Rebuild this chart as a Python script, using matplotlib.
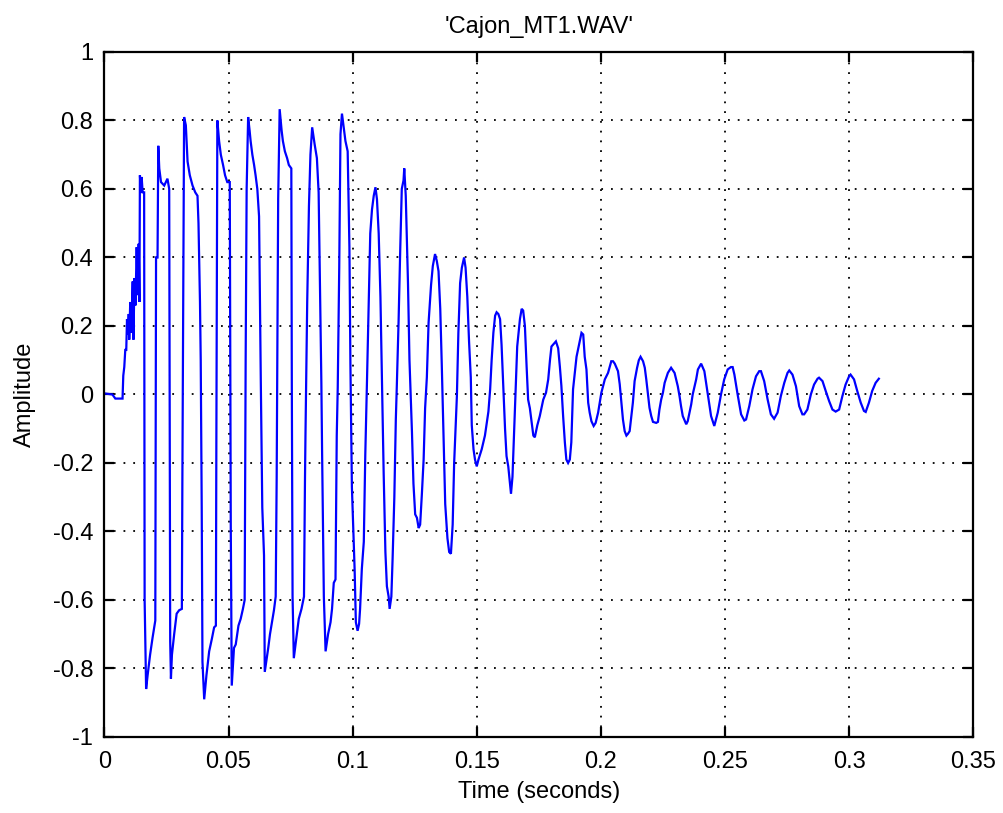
import matplotlib
matplotlib.use('Agg')
import matplotlib.pyplot as plt

title_text = "'Cajon_MT1.WAV'"
x_label = "Time (seconds)"
y_label = "Amplitude"
x_ticks = [0, 0.05, 0.1, 0.15, 0.2, 0.25, 0.3, 0.35]
x_tick_labels = ['0', '0.05', '0.1', '0.15', '0.2', '0.25', '0.3', '0.35']
y_ticks = [-1, -0.8, -0.6, -0.4, -0.2, 0, 0.2, 0.4, 0.6, 0.8, 1]
y_tick_labels = ['-1', '-0.8', '-0.6', '-0.4', '-0.2', '0', '0.2', '0.4', '0.6', '0.8', '1']

# waveform vertices (seconds, amplitude)
time_s = [
    0.0000, 0.0032, 0.0044, 0.0073, 0.0076, 0.0080, 0.0084, 0.0088, 0.0091, 0.0094,
    0.0098, 0.0100, 0.0104, 0.0108, 0.0114, 0.0117, 0.0121, 0.0125, 0.0130, 0.0134,
    0.0138, 0.0141, 0.0143, 0.0147, 0.0150, 0.0154, 0.0160, 0.0162, 0.0168, 0.0174,
    0.0184, 0.0194, 0.0205, 0.0208, 0.0214, 0.0217, 0.0221, 0.0228, 0.0241, 0.0254,
    0.0261, 0.0265, 0.0268, 0.0272, 0.0281, 0.0291, 0.0301, 0.0312, 0.0314, 0.0321,
    0.0328, 0.0335, 0.0344, 0.0355, 0.0366, 0.0375, 0.0379, 0.0385, 0.0388, 0.0392,
    0.0395, 0.0402, 0.0411, 0.0422, 0.0433, 0.0442, 0.0449, 0.0451, 0.0455, 0.0462,
    0.0469, 0.0478, 0.0486, 0.0495, 0.0505, 0.0509, 0.0513, 0.0522, 0.0529, 0.0540,
    0.0549, 0.0558, 0.0565, 0.0569, 0.0573, 0.0579, 0.0585, 0.0589, 0.0596, 0.0603,
    0.0609, 0.0616, 0.0623, 0.0630, 0.0636, 0.0643, 0.0646, 0.0652, 0.0660, 0.0667,
    0.0674, 0.0683, 0.0690, 0.0694, 0.0700, 0.0706, 0.0714, 0.0719, 0.0727, 0.0736,
    0.0743, 0.0753, 0.0755, 0.0758, 0.0763, 0.0770, 0.0777, 0.0783, 0.0794, 0.0804,
    0.0808, 0.0810, 0.0817, 0.0824, 0.0830, 0.0837, 0.0847, 0.0856, 0.0863, 0.0870,
    0.0874, 0.0877, 0.0884, 0.0891, 0.0901, 0.0911, 0.0917, 0.0924, 0.0931, 0.0936,
    0.0940, 0.0946, 0.0951, 0.0957, 0.0964, 0.0971, 0.0980, 0.0987, 0.0991, 0.0997,
    0.1008, 0.1013, 0.1020, 0.1026, 0.1030, 0.1037, 0.1045, 0.1051, 0.1058, 0.1065,
    0.1071, 0.1078, 0.1085, 0.1092, 0.1098, 0.1105, 0.1112, 0.1118, 0.1125, 0.1132,
    0.1138, 0.1145, 0.1149, 0.1156, 0.1161, 0.1168, 0.1174, 0.1178, 0.1185, 0.1192,
    0.1198, 0.1205, 0.1208, 0.1214, 0.1223, 0.1229, 0.1239, 0.1245, 0.1252, 0.1259,
    0.1266, 0.1272, 0.1279, 0.1286, 0.1292, 0.1299, 0.1306, 0.1316, 0.1323, 0.1332,
    0.1339, 0.1346, 0.1353, 0.1359, 0.1366, 0.1373, 0.1382, 0.1389, 0.1396, 0.1403,
    0.1409, 0.1420, 0.1426, 0.1433, 0.1440, 0.1449, 0.1455, 0.1462, 0.1469, 0.1476,
    0.1480, 0.1487, 0.1493, 0.1500, 0.1507, 0.1520, 0.1533, 0.1547, 0.1554, 0.1560,
    0.1567, 0.1574, 0.1580, 0.1587, 0.1594, 0.1600, 0.1607, 0.1614, 0.1620, 0.1627,
    0.1634, 0.1638, 0.1644, 0.1650, 0.1657, 0.1663, 0.1674, 0.1681, 0.1687, 0.1694,
    0.1701, 0.1707, 0.1714, 0.1721, 0.1728, 0.1734, 0.1744, 0.1754, 0.1768, 0.1779,
    0.1788, 0.1795, 0.1801, 0.1819, 0.1828, 0.1835, 0.1841, 0.1848, 0.1855, 0.1861,
    0.1868, 0.1875, 0.1881, 0.1888, 0.1902, 0.1912, 0.1922, 0.1929, 0.1935, 0.1942,
    0.1949, 0.1955, 0.1962, 0.1971, 0.1979, 0.1989, 0.2002, 0.2016, 0.2029, 0.2042,
    0.2049, 0.2056, 0.2069, 0.2076, 0.2083, 0.2089, 0.2096, 0.2103, 0.2109, 0.2116,
    0.2123, 0.2129, 0.2136, 0.2146, 0.2153, 0.2160, 0.2170, 0.2177, 0.2183, 0.2190,
    0.2196, 0.2203, 0.2210, 0.2223, 0.2230, 0.2236, 0.2243, 0.2250, 0.2257, 0.2270,
    0.2283, 0.2297, 0.2310, 0.2317, 0.2323, 0.2330, 0.2344, 0.2350, 0.2357, 0.2364,
    0.2370, 0.2384, 0.2391, 0.2404, 0.2417, 0.2424, 0.2431, 0.2438, 0.2444, 0.2457,
    0.2471, 0.2484, 0.2497, 0.2511, 0.2524, 0.2531, 0.2538, 0.2551, 0.2565, 0.2578,
    0.2585, 0.2598, 0.2611, 0.2625, 0.2638, 0.2645, 0.2658, 0.2672, 0.2685, 0.2698,
    0.2712, 0.2725, 0.2739, 0.2752, 0.2759, 0.2772, 0.2786, 0.2799, 0.2812, 0.2819,
    0.2832, 0.2846, 0.2859, 0.2873, 0.2879, 0.2893, 0.2906, 0.2920, 0.2933, 0.2946,
    0.2960, 0.2973, 0.2986, 0.3000, 0.3006, 0.3020, 0.3033, 0.3047, 0.3060, 0.3067,
    0.3080, 0.3093, 0.3107, 0.3120,
]
amplitude = [
    0.003, 0.000, -0.012, -0.012, 0.055, 0.08, 0.13, 0.13, 0.22, 0.175,
    0.235, 0.16, 0.27, 0.18, 0.33, 0.16, 0.34, 0.26, 0.43, 0.29,
    0.44, 0.27, 0.64, 0.59, 0.635, 0.59, 0.59, -0.60, -0.86, -0.82,
    -0.76, -0.71, -0.66, 0.40, 0.40, 0.726, 0.66, 0.62, 0.61, 0.63,
    0.60, -0.72, -0.83, -0.76, -0.70, -0.64, -0.63, -0.626, -0.26, 0.81,
    0.786, 0.68, 0.64, 0.61, 0.59, 0.58, 0.50, 0.27, 0.10, -0.33,
    -0.78, -0.89, -0.82, -0.75, -0.713, -0.68, -0.675, -0.14, 0.80, 0.74,
    0.70, 0.67, 0.64, 0.62, 0.62, -0.38, -0.85, -0.74, -0.73, -0.675,
    -0.655, -0.626, -0.60, 0.10, 0.60, 0.81, 0.77, 0.74, 0.70, 0.67,
    0.64, 0.60, 0.52, 0.04, -0.33, -0.47, -0.81, -0.78, -0.74, -0.70,
    -0.67, -0.63, -0.59, -0.24, 0.57, 0.833, 0.77, 0.74, 0.71, 0.69,
    0.67, 0.66, 0.03, -0.59, -0.77, -0.73, -0.69, -0.655, -0.626, -0.59,
    -0.25, -0.12, 0.27, 0.55, 0.70, 0.78, 0.73, 0.69, 0.59, 0.24,
    0.035, -0.17, -0.59, -0.75, -0.70, -0.665, -0.626, -0.55, -0.54, -0.12,
    0.02, 0.37, 0.76, 0.82, 0.78, 0.74, 0.71, 0.43, 0.09, -0.27,
    -0.51, -0.665, -0.69, -0.67, -0.626, -0.51, -0.43, -0.175, 0.045, 0.28,
    0.47, 0.54, 0.58, 0.605, 0.57, 0.47, 0.285, 0.04, -0.23, -0.46,
    -0.56, -0.59, -0.626, -0.59, -0.48, -0.30, -0.073, 0.025, 0.21, 0.43,
    0.60, 0.625, 0.66, 0.58, 0.325, 0.10, -0.11, -0.26, -0.35, -0.36,
    -0.39, -0.38, -0.29, -0.19, -0.04, 0.05, 0.21, 0.32, 0.375, 0.41,
    0.39, 0.36, 0.25, 0.09, -0.12, -0.32, -0.42, -0.46, -0.465, -0.38,
    -0.20, -0.005, 0.18, 0.325, 0.37, 0.40, 0.37, 0.285, 0.155, 0.05,
    -0.09, -0.16, -0.19, -0.21, -0.19, -0.16, -0.12, -0.05, 0.015, 0.10,
    0.18, 0.23, 0.24, 0.235, 0.22, 0.145, 0.025, -0.10, -0.18, -0.21,
    -0.26, -0.29, -0.24, -0.12, 0.015, 0.14, 0.22, 0.25, 0.245, 0.20,
    0.08, -0.015, -0.04, -0.08, -0.12, -0.125, -0.09, -0.063, -0.015, 0.005,
    0.044, 0.10, 0.14, 0.155, 0.135, 0.08, 0.025, -0.063, -0.14, -0.19,
    -0.20, -0.19, -0.14, 0.015, 0.11, 0.145, 0.18, 0.175, 0.11, 0.073,
    -0.024, -0.053, -0.078, -0.092, -0.083, -0.053, 0.005, 0.044, 0.063, 0.097,
    0.097, 0.09, 0.068, 0.03, -0.024, -0.073, -0.107, -0.12, -0.115, -0.107,
    -0.063, -0.024, 0.039, 0.078, 0.10, 0.11, 0.097, 0.078, 0.044, 0.0,
    -0.039, -0.063, -0.08, -0.083, -0.08, -0.044, -0.015, 0.005, 0.034, 0.063,
    0.078, 0.063, 0.024, -0.005, -0.034, -0.063, -0.087, -0.078, -0.053, -0.029,
    0.0, 0.044, 0.073, 0.09, 0.068, 0.034, 0.0, -0.034, -0.063, -0.092,
    -0.053, 0.0, 0.044, 0.073, 0.08, 0.08, 0.058, 0.0, -0.058, -0.076,
    -0.073, -0.034, 0.015, 0.053, 0.068, 0.068, 0.039, -0.015, -0.058, -0.071,
    -0.053, -0.005, 0.034, 0.063, 0.07, 0.058, 0.024, -0.034, -0.058, -0.058,
    -0.044, 0.0, 0.029, 0.046, 0.049, 0.039, 0.01, -0.02, -0.044, -0.05,
    -0.044, -0.005, 0.029, 0.053, 0.058, 0.044, 0.01, -0.024, -0.048, -0.051,
    -0.024, 0.01, 0.034, 0.046,
]

FONT = ['Liberation Sans', 'DejaVu Sans']
FS = 17

fig = plt.figure(figsize=(10.04, 8.13), dpi=100)
fig.patch.set_facecolor('white')
ax = fig.add_axes([0.104, 0.0935, 0.8653, 0.8426])

ax.plot(time_s, amplitude, color='#0000ff', lw=1.6, solid_joinstyle='miter')

ax.set_xlim(0, 0.35)
ax.set_ylim(-1, 1)
ax.set_xticks(x_ticks)
ax.set_xticklabels(x_tick_labels, fontfamily=FONT, fontsize=FS)
ax.set_yticks(y_ticks)
ax.set_yticklabels(y_tick_labels, fontfamily=FONT, fontsize=FS)

ax.grid(True, color='#000000', linestyle=(0, (1.0, 4.4)), linewidth=1.3)
ax.tick_params(direction='in', length=7, width=1.6, top=True, right=True,
               color='black', labelcolor='black')
ax.tick_params(axis='x', pad=10)
ax.tick_params(axis='y', pad=8)
for sp in ax.spines.values():
    sp.set_linewidth(1.6)
    sp.set_color('black')

ax.set_title(title_text, fontfamily=FONT, fontsize=FS, pad=14)
ax.set_xlabel(x_label, fontfamily=FONT, fontsize=FS, labelpad=6)
ax.set_ylabel(y_label, fontfamily=FONT, fontsize=FS, labelpad=12)

fig.savefig('out.png', dpi=100, facecolor='white')
